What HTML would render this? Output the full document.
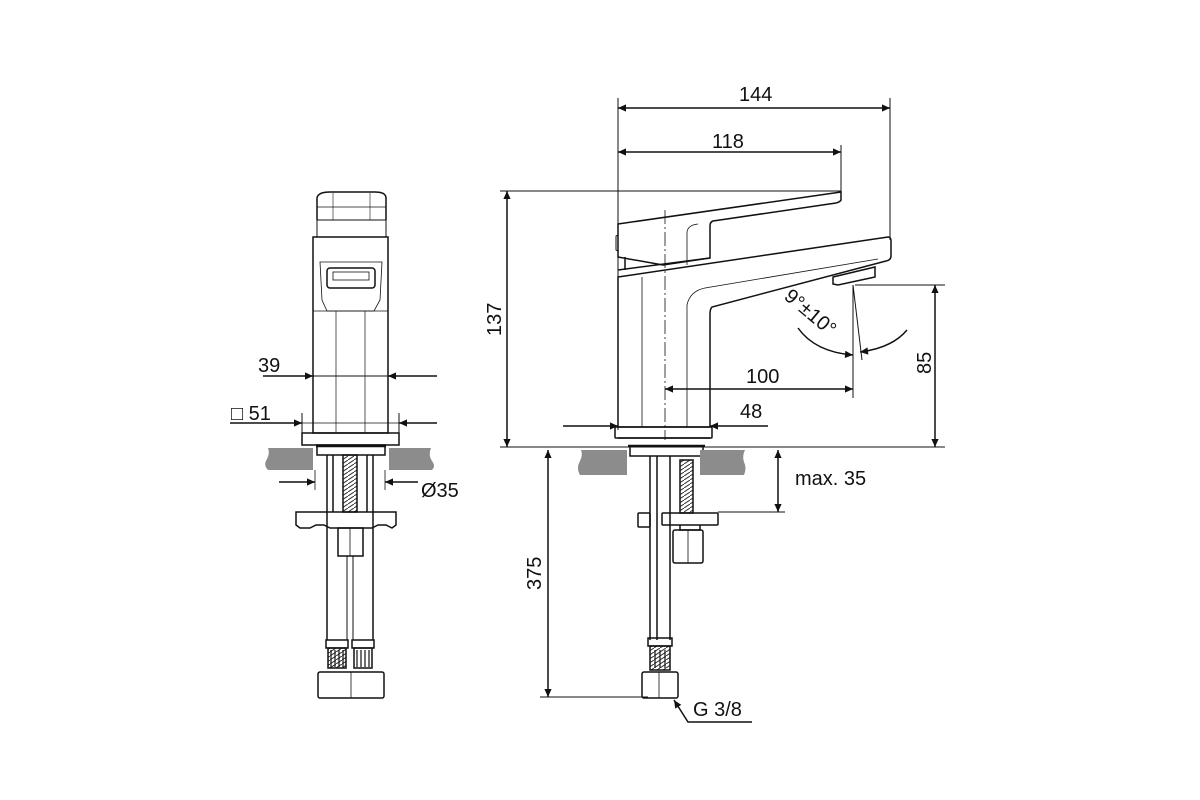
<!DOCTYPE html>
<html><head><meta charset="utf-8"><style>
html,body{margin:0;padding:0;background:#fff}
svg{display:block}
text{font-family:"Liberation Sans",sans-serif;fill:#111}
</style></head><body>
<svg width="1200" height="800" viewBox="0 0 1200 800" xmlns="http://www.w3.org/2000/svg">
<defs>
<marker id="a" viewBox="0 0 10 10" refX="10" refY="5" markerWidth="17" markerHeight="8" markerUnits="userSpaceOnUse" orient="auto-start-reverse"><path d="M0,0.5 L10,5 L0,9.5 z" fill="#111"/></marker>
<pattern id="th" width="6" height="4" patternUnits="userSpaceOnUse"><path d="M0,4 L6,0" stroke="#333" stroke-width="1"/></pattern>
</defs>
<g fill="none" stroke="#111" stroke-width="1.5">
<!-- LEFT VIEW -->
<path d="M317,220 L317,198 Q318,192 330,192 L375,192 Q386,192 386,198 L386,220" />
<line x1="317" y1="207" x2="386" y2="207" stroke-width="0.8"/>
<line x1="333" y1="193" x2="333" y2="220" stroke-width="0.6"/>
<line x1="370" y1="193" x2="370" y2="220" stroke-width="0.6"/>
<path d="M317,220 L386,220 L386,237 L317,237 Z" stroke-width="1"/>
<rect x="313" y="237" width="75" height="196"/>
<path d="M320,262 L382,262 L380,300 L374,311 L327,311 L322,300 Z" stroke-width="0.8"/>
<rect x="327" y="268" width="48" height="20" rx="3"/>
<rect x="333" y="272" width="36" height="8" stroke-width="0.8"/>
<line x1="313" y1="311" x2="388" y2="311" stroke-width="0.8"/>
<line x1="336" y1="311" x2="336" y2="433" stroke-width="0.7"/>
<line x1="365" y1="311" x2="365" y2="433" stroke-width="0.7"/>
<rect x="302" y="433" width="97" height="12"/>
<rect x="317" y="445" width="68" height="10"/>
<line x1="316" y1="446" x2="386" y2="446" stroke-width="2.5"/>
<!-- 39 -->
<line x1="263" y1="376" x2="313" y2="376" marker-end="url(#a)"/>
<line x1="313" y1="376" x2="388" y2="376" stroke-width="1"/>
<line x1="437" y1="376" x2="388" y2="376" marker-end="url(#a)"/>
<!-- 51 -->
<line x1="302" y1="413" x2="302" y2="433" stroke-width="1"/>
<line x1="399" y1="413" x2="399" y2="433" stroke-width="1"/>
<line x1="230" y1="423" x2="302" y2="423" marker-end="url(#a)"/>
<line x1="302" y1="423" x2="399" y2="423" stroke-width="0.8"/>
<line x1="437" y1="423" x2="399" y2="423" marker-end="url(#a)"/>
<!-- countertop left view -->
<path d="M268,448 L313,448 L313,470 L268,470 Q263,465 267,459 Q270,453 268,448 Z" fill="#8c8c8c" stroke="none"/>
<path d="M389,448 L431,448 Q428,455 432,461 Q436,466 432,470 L389,470 Z" fill="#8c8c8c" stroke="none"/>
<!-- Ø35 -->
<line x1="315" y1="470" x2="315" y2="490" stroke-width="0.8"/>
<line x1="385" y1="470" x2="385" y2="490" stroke-width="0.8"/>
<line x1="279" y1="482" x2="315" y2="482" marker-end="url(#a)"/>
<line x1="418" y1="482" x2="385" y2="482" marker-end="url(#a)"/>
<!-- shank -->
<line x1="327" y1="455" x2="327" y2="640"/>
<line x1="333" y1="455" x2="333" y2="512"/>
<line x1="367" y1="455" x2="367" y2="512"/>
<line x1="373" y1="455" x2="373" y2="640"/>
<rect x="343" y="455" width="14" height="57" fill="url(#th)"/>
<path d="M296,512 L396,512 L396,525 L392,528 L386,525 L378,525 L372,528 L330,528 L324,525 L316,525 L310,528 L300,528 L296,525 Z"/>
<rect x="338" y="528" width="25" height="28"/>
<line x1="350" y1="528" x2="350" y2="556" stroke-width="0.8"/>
<line x1="347" y1="556" x2="347" y2="640" stroke-width="1"/>
<line x1="353" y1="556" x2="353" y2="640" stroke-width="1"/>
<rect x="326" y="640" width="22" height="8"/><rect x="352" y="640" width="22" height="8"/>
<rect x="328" y="648" width="18" height="20" fill="url(#th)"/><rect x="354" y="648" width="18" height="20"/>
<g stroke-width="1.2"><line x1="331" y1="650" x2="331" y2="667"/><line x1="335" y1="650" x2="335" y2="667"/><line x1="339" y1="650" x2="339" y2="667"/><line x1="343" y1="650" x2="343" y2="667"/>
<line x1="357" y1="650" x2="357" y2="667"/><line x1="361" y1="650" x2="361" y2="667"/><line x1="365" y1="650" x2="365" y2="667"/><line x1="369" y1="650" x2="369" y2="667"/></g>
<rect x="318" y="672" width="66" height="26" rx="2"/>
<line x1="351" y1="672" x2="351" y2="698" stroke-width="0.8"/>

<!-- RIGHT VIEW -->
<line x1="618" y1="98" x2="618" y2="430" stroke-width="1"/>
<line x1="890" y1="98" x2="890" y2="240" stroke-width="1"/>
<line x1="841" y1="145" x2="841" y2="196" stroke-width="1"/>
<line x1="618" y1="108" x2="890" y2="108" marker-start="url(#a)" marker-end="url(#a)"/>
<line x1="618" y1="152" x2="841" y2="152" marker-start="url(#a)" marker-end="url(#a)"/>
<line x1="500" y1="191" x2="841" y2="191" stroke-width="1"/>
<line x1="507" y1="191" x2="507" y2="447" marker-start="url(#a)" marker-end="url(#a)"/>
<!-- handle -->
<path d="M618,224 L841,192 L841,200 Q840,202 836,203 L713,221 Q710,222 710,226 L710,258 L663,265 L618,257 Z"/>
<path d="M687,265 L687,232 Q688,225 698,224" stroke-width="0.8"/>
<path d="M618,235 L616,236 L616,250 L618,251" stroke-width="1"/>
<line x1="625" y1="257" x2="625" y2="270"/>
<!-- spout/body -->
<path d="M618,277 L888,237 Q891,237 891,241 L891,256 Q891,260 886,261 L712,307 Q710,309 710,314 L710,427 L618,427 Z"/>
<line x1="618" y1="270" x2="710" y2="258"/>
<path d="M687,427 L687,305 Q690,291 705,288 L878,259" stroke-width="0.8"/>
<line x1="642" y1="277" x2="642" y2="427" stroke-width="0.8"/>
<path d="M833,277 L875,267 L875,277 L838,285 L833,284 Z"/>
<line x1="665" y1="210" x2="665" y2="440" stroke-width="0.8" stroke-dasharray="14,3,2,3"/>
<rect x="615" y="427" width="97" height="11" rx="1"/>
<line x1="618" y1="438" x2="710" y2="438"/>
<rect x="630" y="446" width="73" height="10"/>
<line x1="628" y1="446" x2="705" y2="446" stroke-width="2.5"/>
<line x1="500" y1="447" x2="945" y2="447" stroke-width="1"/>
<!-- 85 -->
<line x1="855" y1="285" x2="945" y2="285" stroke-width="1"/>
<line x1="935" y1="285" x2="935" y2="447" marker-start="url(#a)" marker-end="url(#a)"/>
<!-- 100 -->
<line x1="853" y1="285" x2="853" y2="398" stroke-width="1"/>
<line x1="853" y1="285" x2="862" y2="360" stroke-width="1"/>
<line x1="665" y1="389" x2="853" y2="389" marker-start="url(#a)" marker-end="url(#a)"/>
<!-- 48 -->
<line x1="563" y1="426" x2="618" y2="426" marker-end="url(#a)"/>
<line x1="768" y1="426" x2="710" y2="426" marker-end="url(#a)"/>
<!-- angle arc -->
<path d="M798,328 Q815,352 853,355" marker-end="url(#a)"/>
<path d="M907,330 Q892,348 860,352" marker-end="url(#a)"/>
<!-- countertop right -->
<path d="M581,450 L627,450 L627,475 L580,475 Q576,468 580,461 Q583,455 581,450 Z" fill="#8c8c8c" stroke="none"/>
<path d="M700,450 L745,450 Q742,456 744,462 Q747,468 744,475 L700,475 Z" fill="#8c8c8c" stroke="none"/>
<!-- shank right -->
<line x1="650" y1="456" x2="650" y2="640"/>
<line x1="657" y1="456" x2="657" y2="640"/>
<line x1="670" y1="456" x2="670" y2="640"/>
<rect x="680" y="460" width="13" height="53" fill="url(#th)"/>
<rect x="638" y="513" width="12" height="14" rx="1"/>
<rect x="662" y="513" width="56" height="12" rx="1"/>
<path d="M680,525 L680,530 L700,530 L700,525" />
<rect x="673" y="530" width="30" height="33" rx="2"/>
<line x1="688" y1="530" x2="688" y2="563" stroke-width="0.8"/>
<rect x="648" y="638" width="24" height="8"/>
<rect x="650" y="646" width="20" height="24" fill="url(#th)"/>
<g stroke-width="1.2"><line x1="655" y1="650" x2="655" y2="668"/><line x1="660" y1="650" x2="660" y2="668"/><line x1="665" y1="650" x2="665" y2="668"/></g>
<rect x="642" y="672" width="36" height="26" rx="2"/>
<line x1="659" y1="672" x2="659" y2="698" stroke-width="0.8"/>
<!-- 375 -->
<line x1="540" y1="697" x2="648" y2="697" stroke-width="1"/>
<line x1="548" y1="450" x2="548" y2="697" marker-start="url(#a)" marker-end="url(#a)"/>
<!-- max 35 -->
<line x1="718" y1="512" x2="785" y2="512" stroke-width="1"/>
<line x1="778" y1="450" x2="778" y2="512" marker-start="url(#a)" marker-end="url(#a)"/>
<!-- G 3/8 leader -->
<path d="M752,722 L688,722 L674,700" marker-end="url(#a)"/>
</g>
<g font-size="20">
<text x="739" y="101">144</text>
<text x="712" y="148">118</text>
<text x="258" y="372">39</text>
<text x="231" y="420">□ 51</text>
<text x="421" y="497">Ø35</text>
<text x="746" y="383">100</text>
<text x="740" y="418">48</text>
<text x="795" y="485">max. 35</text>
<text x="693" y="716">G 3/8</text>
<text transform="translate(501,336) rotate(-90)">137</text>
<text transform="translate(931,374) rotate(-90)">85</text>
<text transform="translate(541,590) rotate(-90)">375</text>
<text transform="translate(783,298) rotate(40)">9°±10°</text>
</g>
</svg>
</body></html>
